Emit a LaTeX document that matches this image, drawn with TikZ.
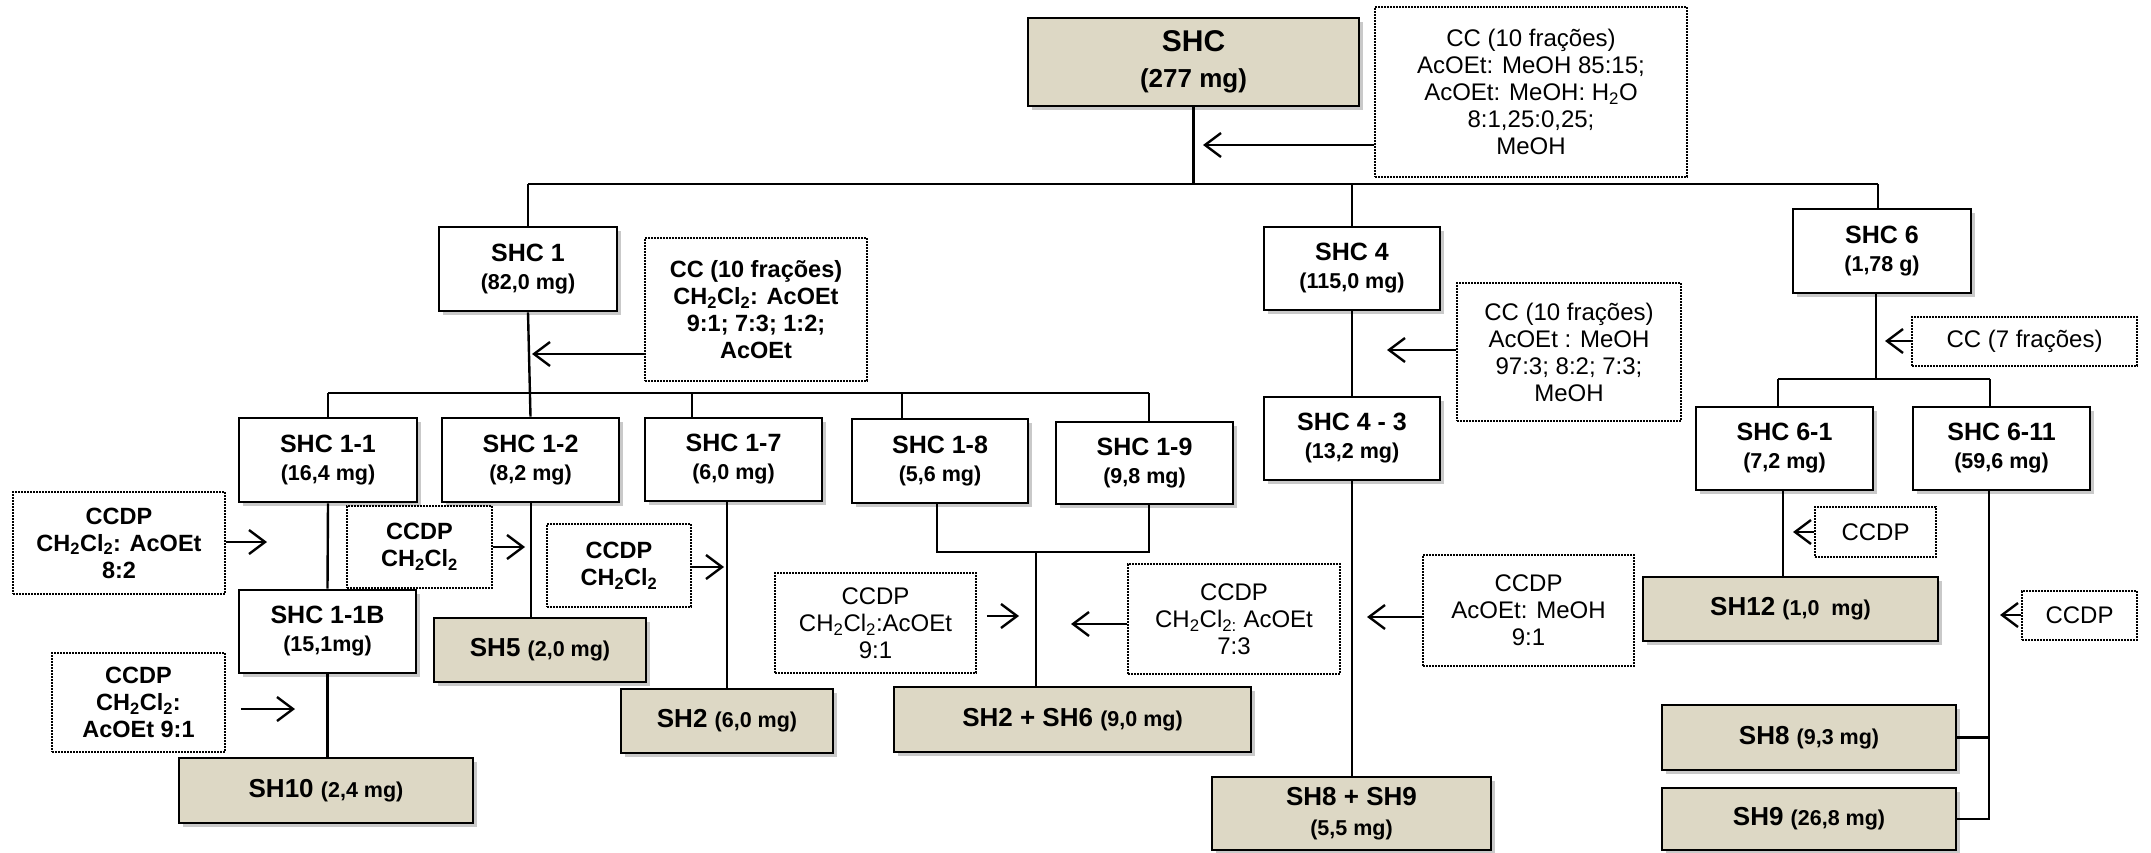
\documentclass[tikz,border=0pt]{standalone}
\usepackage{fontspec}
\setmainfont{Liberation Sans}
\usetikzlibrary{arrows.meta,shadows}
\definecolor{beige}{RGB}{221,216,197}
\newcommand{\mgs}[1]{{\fontsize{21.5}{25}\selectfont #1}}
\newcommand{\sub}[1]{\textsubscript{#1}}

\begin{document}
\begin{tikzpicture}[x=1pt,y=-1pt,
    sz/.style 2 args={minimum width=#1pt,minimum height=#2pt},
    fracbox/.style={draw,line width=2.6pt,fill=white,align=center,inner sep=0pt,
      font=\fontsize{25}{28}\selectfont\bfseries,
      drop shadow={shadow xshift=4pt,shadow yshift=-4pt,opacity=0.3,fill=black!70}},
    purebox/.style={fracbox,fill=beige,font=\fontsize{26}{30}\selectfont\bfseries},
    sepbox/.style={draw,line width=1.8pt,dash pattern=on 1.6pt off 1.4pt,fill=white,
      align=center,inner sep=0pt,font=\fontsize{24}{27}\selectfont},
    sepbold/.style={sepbox,font=\fontsize{23.5}{27}\selectfont\bfseries},
    link/.style={line width=2.4pt},
    elute/.style={line width=2.4pt,-{Straight Barb[length=16pt,width=24pt]}}]
    \useasboundingbox (0,0) rectangle (2151,853);

    % Extract and first column
    \node[purebox,sz={331}{88},font=\fontsize{30}{36}\selectfont\bfseries] (shc) at (1193.5,62) {SHC\\{\fontsize{26}{30}\selectfont(277 mg)}};
    \node[sepbox,sz={312}{170}] (cc0) at (1531,92) {CC (10 frações)\\AcOEt: MeOH 85:15;\\AcOEt: MeOH: H\sub{2}O\\8:1,25:0,25;\\MeOH};

    \node[fracbox,sz={178}{84}] (shc1) at (528,269) {SHC 1\\\mgs{(82,0 mg)}};
    \node[fracbox,sz={176}{83}] (shc4) at (1352,268.5) {SHC 4\\\mgs{(115,0 mg)}};
    \node[fracbox,sz={178}{84}] (shc6) at (1882,251) {SHC 6\\\mgs{(1,78 g)}};

    \node[sepbold,sz={222}{143}] (cc1) at (756,309.5) {CC (10 frações)\\CH\sub{2}Cl\sub{2}: AcOEt\\9:1; 7:3; 1:2;\\AcOEt};
    \node[sepbox,sz={224}{138}] (cc4) at (1569,352) {CC (10 frações)\\AcOEt : MeOH\\97:3; 8:2; 7:3;\\MeOH};
    \node[sepbox,sz={225}{49}] (cc6) at (2024.5,341.5) {CC (7 frações)};

    % Subfractions
    \node[fracbox,sz={178}{84}] (shc11) at (328,460) {SHC 1-1\\\mgs{(16,4 mg)}};
    \node[fracbox,sz={177}{84}] (shc12) at (530.5,460) {SHC 1-2\\\mgs{(8,2 mg)}};
    \node[fracbox,sz={177}{83}] (shc17) at (733.5,459.5) {SHC 1-7\\\mgs{(6,0 mg)}};
    \node[fracbox,sz={176}{84}] (shc18) at (940,461) {SHC 1-8\\\mgs{(5,6 mg)}};
    \node[fracbox,sz={177}{82}] (shc19) at (1144.5,463) {SHC 1-9\\\mgs{(9,8 mg)}};
    \node[fracbox,sz={176}{83}] (shc43) at (1352,438.5) {SHC 4 - 3\\\mgs{(13,2 mg)}};
    \node[fracbox,sz={177}{83}] (shc61) at (1784.5,448.5) {SHC 6-1\\\mgs{(7,2 mg)}};
    \node[fracbox,sz={177}{83}] (shc611) at (2001.5,448.5) {SHC 6-11\\\mgs{(59,6 mg)}};
    \node[fracbox,sz={177}{83}] (shc11b) at (327.5,631.5) {SHC 1-1B\\\mgs{(15,1mg)}};

    % CCDP steps
    \node[sepbold,sz={212}{102}] (ccdp82) at (119,543) {CCDP\\CH\sub{2}Cl\sub{2}: AcOEt\\8:2};
    \node[sepbold,sz={145}{82}] (ccdpa) at (419.5,547) {CCDP\\CH\sub{2}Cl\sub{2}};
    \node[sepbold,sz={144}{83}] (ccdpb) at (619,565.5) {CCDP\\CH\sub{2}Cl\sub{2}};
    \node[sepbold,sz={173}{99}] (ccdp91a) at (138.5,702.5) {CCDP\\CH\sub{2}Cl\sub{2}:\\AcOEt 9:1};
    \node[sepbox,sz={201}{100}] (ccdp91b) at (875.5,623) {CCDP\\CH\sub{2}Cl\sub{2}:AcOEt\\9:1};
    \node[sepbox,sz={212}{110}] (ccdp73) at (1234,619) {CCDP\\CH\sub{2}Cl\sub{2:} AcOEt\\7:3};
    \node[sepbox,sz={211}{111}] (ccdp91c) at (1528.5,610.5) {CCDP\\AcOEt: MeOH\\9:1};
    \node[sepbox,sz={121}{50}] (ccdp61) at (1875.5,532) {CCDP};
    \node[sepbox,sz={115}{49}] (ccdp611) at (2079.5,615.5) {CCDP};

    % Pure compounds
    \node[purebox,sz={294}{65}] (sh10) at (326,790.5) {SH10 \mgs{(2,4 mg)}};
    \node[purebox,sz={212}{64}] (sh5) at (540,650) {SH5 \mgs{(2,0 mg)}};
    \node[purebox,sz={212}{64}] (sh2) at (727,721) {SH2 \mgs{(6,0 mg)}};
    \node[purebox,sz={357}{65}] (sh26) at (1072.5,719.5) {SH2 + SH6 \mgs{(9,0 mg)}};
    \node[purebox,sz={279}{73}] (sh89) at (1351.5,813.5) {SH8 + SH9\\\mgs{(5,5 mg)}};
    \node[purebox,sz={295}{64}] (sh12) at (1790.5,609) {SH12 \mgs{(1,0\ \ mg)}};
    \node[purebox,sz={294}{65}] (sh8) at (1809,737.5) {SH8 \mgs{(9,3 mg)}};
    \node[purebox,sz={294}{62}] (sh9) at (1809,819) {SH9 \mgs{(26,8 mg)}};

    % Tree of the extract
    \coordinate (bar0w) at (528,184);
    \coordinate (bar0e) at (1878,184);
    \draw[link] (bar0w) -- (bar0e);
    \draw[link] (shc.south) -- (shc.south |- bar0w);
    \draw[link] (bar0w) -- (shc1.north);
    \draw[link] (shc4.north |- bar0w) -- (shc4.north);
    \draw[link] (bar0e) -- (bar0e |- shc6.north);

    % Tree of SHC 1
    \coordinate (bar1w) at (328,393);
    \coordinate (bar1e) at (1149,393);
    \draw[link] (shc1.south) -- (shc12.north);
    \draw[link] (bar1w) -- (bar1e);
    \foreach \x/\n in {328/shc11,692/shc17,902/shc18,1149/shc19}
      \draw[link] (\x,0 |- bar1w) -- (\x,0 |- \n.north);
    \draw[link] (shc11.south) -- (shc11b.north);
    \draw[link] (shc11b.south) -- (shc11b.south |- sh10.north);
    \draw[link] (531,0 |- shc12.south) -- (531,0 |- sh5.north);
    \draw[link] (727,0 |- shc17.south) -- (727,0 |- sh2.north);
    \coordinate (join) at (1036,552);
    \draw[link] (937,0 |- shc18.south) |- (join) -| (1149,0 |- shc19.south);
    \draw[link] (join) -- (join |- sh26.north);

    % Tree of SHC 4 and SHC 6
    \draw[link] (shc4.south) -- (shc43.north);
    \draw[link] (shc43.south) -- (shc43.south |- sh89.north);
    \coordinate (bar6w) at (1778,379);
    \coordinate (bar6e) at (1990,379);
    \draw[link] (1876,0 |- shc6.south) -- (1876,0 |- bar6w);
    \draw[link] (bar6w) -- (bar6e);
    \draw[link] (bar6w) -- (bar6w |- shc61.north);
    \draw[link] (bar6e) -- (bar6e |- shc611.north);
    \draw[link] (1783,0 |- shc61.south) -- (1783,0 |- sh12.north);
    \coordinate (v611) at (1989,0 |- shc611.south);
    \draw[link] (v611) -- (v611 |- sh9.east) -- (sh9.east);
    \draw[link] (v611 |- sh8.east) -- (sh8.east);

    % Elution arrows
    \foreach \b/\x/\y in {cc0/1203/145, cc1/532/354, cc4/1387/350, cc6/1885/341,
        ccdp73/1071/624, ccdp91c/1367/617, ccdp61/1793/532, ccdp611/2000/615}
      \draw[elute] (\x,\y -| \b.west) -- (\x,\y);
    \foreach \b/\x/\y in {ccdp82/267/542, ccdpa/525/547, ccdpb/724/567}
      \draw[elute] (\x,\y -| \b.east) -- (\x,\y);
    \draw[elute,shorten <=15pt] (295,709 -| ccdp91a.east) -- (295,709);
    \draw[elute,shorten <=10pt] (1019,616 -| ccdp91b.east) -- (1019,616);
\end{tikzpicture}
\end{document}
